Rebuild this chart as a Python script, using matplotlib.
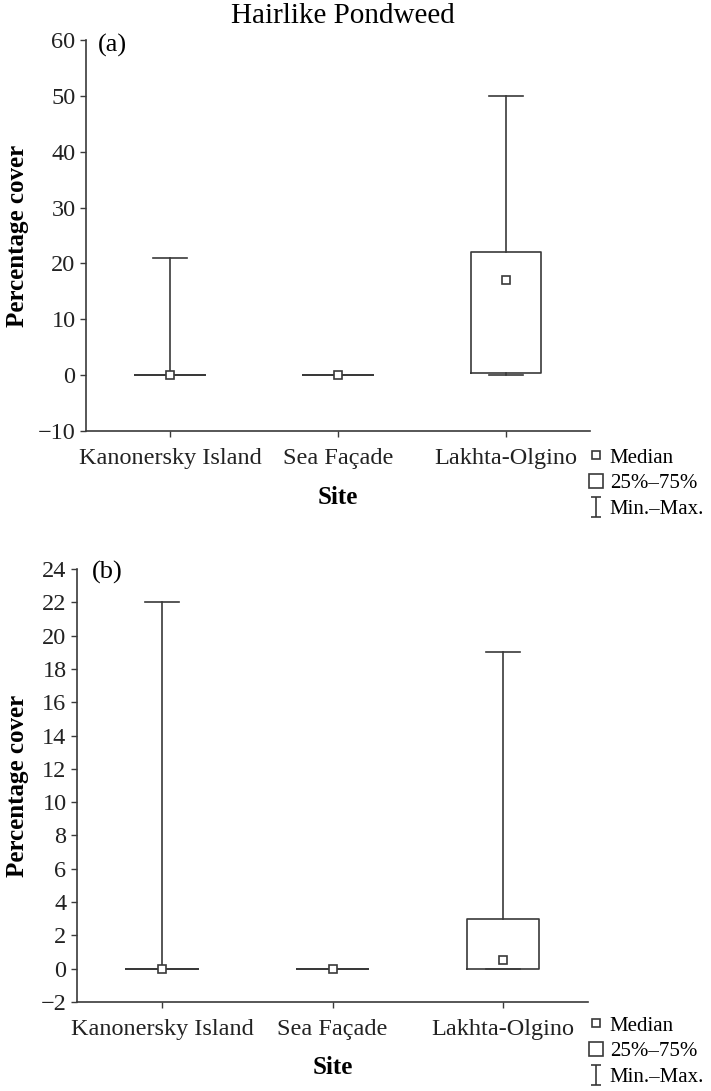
import matplotlib.pyplot as plt
from matplotlib.lines import Line2D
from matplotlib.path import Path

plt.rcParams['font.family'] = ['Liberation Serif', 'DejaVu Serif']

# sites and box statistics
SITES = ['Kanonersky Island', 'Sea Façade', 'Lakhta-Olgino']

# panel (a)
A_MIN = [0, 0, 0]
A_Q1 = [0, 0, 0.4]
A_MED = [0, 0, 17]
A_Q3 = [0, 0, 22]
A_MAX = [21, 0, 50]
A_TICKS = [-10, 0, 10, 20, 30, 40, 50, 60]

# panel (b)
B_MIN = [0, 0, 0]
B_Q1 = [0, 0, 0]
B_MED = [0, 0, 0.5]
B_Q3 = [0, 0, 3]
B_MAX = [22, 0, 19]
B_TICKS = list(range(-2, 25, 2))

LC = '#3a3a3a'
LW = 1.2
W, H = 711, 1091

# I-beam marker for the Min.-Max. legend entry
IBEAM = Path([(-0.5, -1), (0.5, -1), (0, -1), (0, 1), (-0.5, 1), (0.5, 1)],
             [Path.MOVETO, Path.LINETO, Path.MOVETO, Path.LINETO, Path.MOVETO, Path.LINETO])


def draw_panel(ax, box_px, mins, q1s, meds, q3s, maxs, ticks, tag, tag_xy, legend_top):
    left, top, right, bottom = box_px
    stats = []
    for lo, q1, med, q3, hi in zip(mins, q1s, meds, q3s, maxs):
        stats.append(dict(whislo=lo, q1=q1, med=med, q3=q3, whishi=hi, fliers=[]))
    pos = [1, 2, 3]
    ax.bxp(stats, positions=pos, widths=0.42, capwidths=0.2, showfliers=False,
           boxprops=dict(color=LC, linewidth=LW),
           whiskerprops=dict(color=LC, linewidth=LW),
           capprops=dict(color=LC, linewidth=LW),
           medianprops=dict(linewidth=0))
    ax.plot(pos, meds, linestyle='none', marker='s', markersize=5.5,
            markerfacecolor='white', markeredgecolor=LC, markeredgewidth=LW, zorder=5)

    ax.set_xlim(0.5, 3.5)
    ax.set_ylim(ticks[0], ticks[-1])
    ax.set_yticks(ticks)
    ax.set_yticklabels([str(t).replace('-', '\u2212') for t in ticks])
    ax.set_xticks(pos)
    ax.set_xticklabels(SITES)
    for s in ['top', 'right']:
        ax.spines[s].set_visible(False)
    for s in ['left', 'bottom']:
        ax.spines[s].set_color(LC)
        ax.spines[s].set_linewidth(LW)
    ax.tick_params(axis='both', colors=LC, labelcolor='#222222', labelsize=17.5,
                   length=4, width=1.0, direction='out')
    ax.tick_params(axis='x', pad=8)
    ax.set_xlabel('Site', fontsize=18, fontweight='bold', va='center')
    ax.xaxis.set_label_coords(0.5, -66 / (bottom - top))
    ax.set_ylabel('Percentage cover', fontsize=18, fontweight='bold', va='center')
    ax.yaxis.set_label_coords((18 - left) / (right - left), 0.5)
    ax.text((tag_xy[0] - left) / (right - left), 1 - (tag_xy[1] - top) / (bottom - top), tag,
            transform=ax.transAxes, fontsize=19, va='center', ha='left')

    handles = [
        Line2D([], [], linestyle='none', marker='s', markersize=5.5, markerfacecolor='white',
               markeredgecolor=LC, markeredgewidth=LW),
        Line2D([], [], linestyle='none', marker='s', markersize=10.5, markerfacecolor='white',
               markeredgecolor=LC, markeredgewidth=LW),
        Line2D([], [], linestyle='none', marker=IBEAM, markersize=14, markerfacecolor='none',
               markeredgecolor=LC, markeredgewidth=LW),
    ]
    ax.legend(handles, ['Median', '25%–75%', 'Min.–Max.'], loc='upper left',
              bbox_to_anchor=(588 / W, 1 - legend_top / H), bbox_transform=ax.figure.transFigure,
              frameon=False, fontsize=15, handlelength=0.8, handletextpad=0.25,
              labelspacing=0.3, borderpad=0, borderaxespad=0)


fig = plt.figure(figsize=(W / 100, H / 100), dpi=100)

A_BOX = (86, 40, 590, 431)
B_BOX = (77, 569, 588, 1002)
ax_a = fig.add_axes([A_BOX[0] / W, 1 - A_BOX[3] / H, (A_BOX[2] - A_BOX[0]) / W, (A_BOX[3] - A_BOX[1]) / H])
ax_b = fig.add_axes([B_BOX[0] / W, 1 - B_BOX[3] / H, (B_BOX[2] - B_BOX[0]) / W, (B_BOX[3] - B_BOX[1]) / H])

draw_panel(ax_a, A_BOX, A_MIN, A_Q1, A_MED, A_Q3, A_MAX, A_TICKS, '(a)', (98, 45), 448)
draw_panel(ax_b, B_BOX, B_MIN, B_Q1, B_MED, B_Q3, B_MAX, B_TICKS, '(b)', (92, 572), 1016)

fig.text(343 / W, 1 - 16 / H, 'Hairlike Pondweed', fontsize=21, ha='center', va='center')

fig.savefig('out.png', dpi=100)
